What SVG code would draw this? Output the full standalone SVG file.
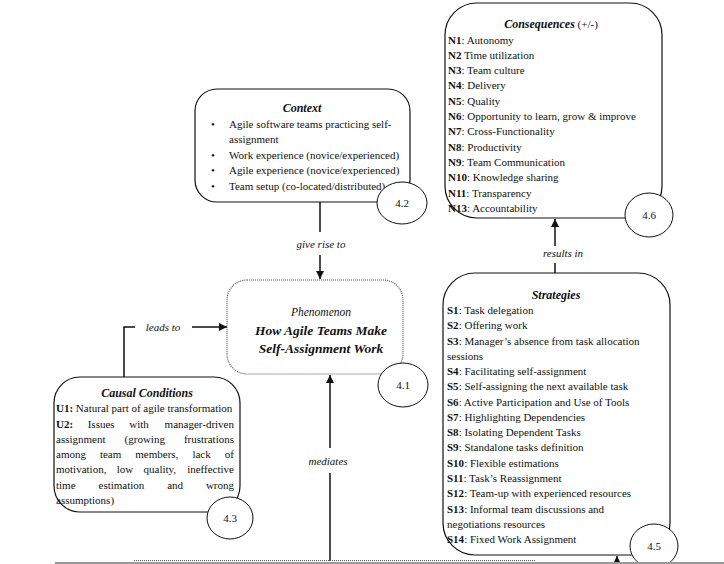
<svg xmlns="http://www.w3.org/2000/svg" width="724" height="564" viewBox="0 0 724 564">
<defs>
<style>
text{font-family:"Liberation Serif","Times New Roman",serif;font-size:11px;fill:#111}
.t{font-weight:bold;font-style:italic;font-size:12px}
.i{font-style:italic}
.b{font-weight:bold}
.box{fill:#fff;stroke:#111;stroke-width:1.2}
.dot{fill:#fff;stroke:#555;stroke-width:1.2;stroke-dasharray:1 1}
.num{fill:#fff;stroke:#111;stroke-width:1}
.ln{fill:none;stroke:#111;stroke-width:1.5}
.c{text-anchor:middle}
</style>
<marker id="ah" viewBox="0 0 10 10" refX="10" refY="5" markerWidth="8" markerHeight="8" markerUnits="userSpaceOnUse" orient="auto">
<path d="M0,0 L10,5 L0,10 z" fill="#111"/>
</marker>
</defs>
<rect width="724" height="564" fill="#fff"/>

<g id="connectors">
<path class="ln" d="M320,202 V232"/>
<path class="ln" d="M320,255 V279" marker-end="url(#ah)"/>
<path class="ln" d="M124,377 V327 H135"/>
<path class="ln" d="M192,327 H227" marker-end="url(#ah)"/>
<path class="ln" d="M330,561 V473"/>
<path class="ln" d="M330,448 V375" marker-end="url(#ah)"/>
<path class="ln" d="M555,273 V263"/>
<path class="ln" d="M555,246 V219" marker-end="url(#ah)"/>
<path class="ln" d="M617,561 V556" marker-end="url(#ah)"/>
<text class="i c" x="321" y="248">give rise to</text>
<text class="i c" x="163" y="331">leads to</text>
<text class="i c" x="328" y="465">mediates</text>
<text class="i c" x="563" y="257">results in</text>
</g>

<g id="context">
<rect class="box" x="195" y="89" width="215" height="113" rx="22"/>
<text class="t c" x="302" y="112">Context</text>
<text x="211" y="128">•</text><text x="229" y="128">Agile software teams practicing self-</text>
<text x="229" y="143">assignment</text>
<text x="211" y="159">•</text><text x="229" y="159">Work experience (novice/experienced)</text>
<text x="211" y="174">•</text><text x="229" y="174">Agile experience (novice/experienced)</text>
<text x="211" y="190">•</text><text x="229" y="190">Team setup (co-located/distributed)</text>
<ellipse class="num" cx="402" cy="203" rx="25" ry="21"/>
<text class="c" x="402" y="207">4.2</text>
</g>

<g id="phenomenon">
<rect class="dot" x="227" y="280" width="176" height="94" rx="20"/>
<text class="i c" x="321" y="316" style="font-size:11.5px">Phenomenon</text>
<text class="t c" x="321" y="335" style="font-size:13.5px">How Agile Teams Make</text>
<text class="t c" x="321" y="353" style="font-size:13.5px">Self-Assignment Work</text>
<ellipse class="num" cx="403" cy="385" rx="25" ry="22"/>
<text class="c" x="403" y="389">4.1</text>
</g>

<g id="causal">
<rect class="box" x="54" y="377" width="186" height="135" rx="26"/>
<text class="t c" x="147" y="397">Causal Conditions</text>
<text x="56" y="412"><tspan class="b">U1:</tspan> Natural part of agile transformation</text>
<text y="427.5"><tspan class="b" x="56">U2:</tspan><tspan x="87.7">Issues</tspan><tspan x="129.2">with</tspan></text>
<text x="234" y="427.5" text-anchor="end">manager-driven</text>
<text y="442.8"><tspan x="56">assignment</tspan><tspan x="124.6">(growing</tspan></text>
<text x="234" y="442.8" text-anchor="end">frustrations</text>
<text y="458.1"><tspan x="56">among</tspan><tspan x="99.9">team</tspan><tspan x="135.3">members,</tspan><tspan x="192.4">lack</tspan></text>
<text x="234" y="458.1" text-anchor="end">of</text>
<text y="473.4"><tspan x="56">motivation,</tspan><tspan x="116.7">low</tspan><tspan x="143.5">quality,</tspan></text>
<text x="234" y="473.4" text-anchor="end">ineffective</text>
<text y="488.7"><tspan x="56">time</tspan><tspan x="98.5">estimation</tspan><tspan x="167.2">and</tspan></text>
<text x="234" y="488.7" text-anchor="end">wrong</text>
<text x="56" y="504">assumptions)</text>
<ellipse class="num" cx="230" cy="518" rx="23" ry="21"/>
<text class="c" x="230" y="522">4.3</text>
</g>

<g id="consequences">
<rect class="box" x="445" y="3" width="217" height="215" rx="32"/>
<text class="c" x="551" y="28"><tspan class="t">Consequences</tspan> (+/-)</text>
<text x="448" y="43.5"><tspan class="b">N1</tspan>: Autonomy</text>
<text x="448" y="58.8"><tspan class="b">N2</tspan> Time utilization</text>
<text x="448" y="74.1"><tspan class="b">N3</tspan>: Team culture</text>
<text x="448" y="89.4"><tspan class="b">N4</tspan>: Delivery</text>
<text x="448" y="104.7"><tspan class="b">N5</tspan>: Quality</text>
<text x="448" y="120"><tspan class="b">N6</tspan>: Opportunity to learn, grow &amp; improve</text>
<text x="448" y="135.3"><tspan class="b">N7</tspan>: Cross-Functionality</text>
<text x="448" y="150.6"><tspan class="b">N8</tspan>: Productivity</text>
<text x="448" y="165.9"><tspan class="b">N9</tspan>: Team Communication</text>
<text x="448" y="181.2"><tspan class="b">N10</tspan>: Knowledge sharing</text>
<text x="448" y="196.5"><tspan class="b">N11</tspan>: Transparency</text>
<text x="448" y="211.8"><tspan class="b">N13</tspan>: Accountability</text>
<ellipse class="num" cx="649" cy="215" rx="24" ry="22"/>
<text class="c" x="649" y="219">4.6</text>
</g>

<g id="strategies">
<rect class="box" x="443" y="273" width="227" height="282" rx="32"/>
<text class="t c" x="556" y="299">Strategies</text>
<text x="447" y="314"><tspan class="b">S1</tspan>: Task delegation</text>
<text x="447" y="329.3"><tspan class="b">S2</tspan>: Offering work</text>
<text x="447" y="344.5"><tspan class="b">S3</tspan>: Manager’s absence from task allocation</text>
<text x="447" y="359.8">sessions</text>
<text x="447" y="375.1"><tspan class="b">S4</tspan>: Facilitating self-assignment</text>
<text x="447" y="390.4"><tspan class="b">S5</tspan>: Self-assigning the next available task</text>
<text x="447" y="405.6"><tspan class="b">S6</tspan>: Active Participation and Use of Tools</text>
<text x="447" y="420.9"><tspan class="b">S7</tspan>: Highlighting Dependencies</text>
<text x="447" y="436.2"><tspan class="b">S8</tspan>: Isolating Dependent Tasks</text>
<text x="447" y="451.4"><tspan class="b">S9</tspan>: Standalone tasks definition</text>
<text x="447" y="466.7"><tspan class="b">S10</tspan>: Flexible estimations</text>
<text x="447" y="482"><tspan class="b">S11</tspan>: Task’s Reassignment</text>
<text x="447" y="497.2"><tspan class="b">S12</tspan>: Team-up with experienced resources</text>
<text x="447" y="512.5"><tspan class="b">S13</tspan>: Informal team discussions and</text>
<text x="447" y="527.8">negotiations resources</text>
<text x="447" y="543"><tspan class="b">S14</tspan>: Fixed Work Assignment</text>
<ellipse class="num" cx="654" cy="546" rx="24" ry="22"/>
<text class="c" x="654" y="550">4.5</text>
</g>

<g id="bottom-edge">
<path d="M134,560.5 H535" fill="none" stroke="#555" stroke-width="1" stroke-dasharray="1 1"/>
<rect x="55" y="562" width="669" height="2" fill="#999"/>
</g>
</svg>
